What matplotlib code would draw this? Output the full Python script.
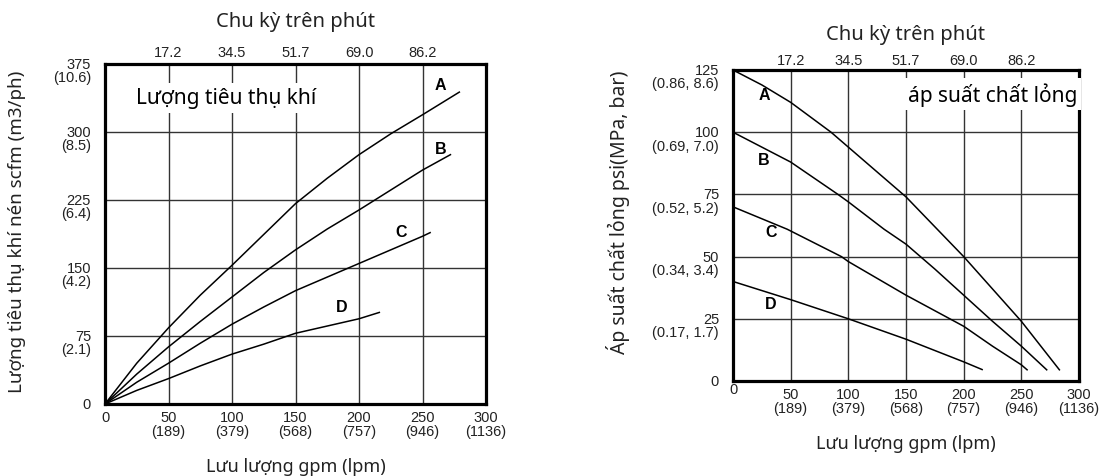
import matplotlib
matplotlib.use("Agg")
import matplotlib.pyplot as plt
from matplotlib.transforms import ScaledTranslation

# --- du lieu doc tu hinh ---
gpm_ticks = [0, 50, 100, 150, 200, 250, 300]
gpm_labels = ["0", "50\n(189)", "100\n(379)", "150\n(568)", "200\n(757)", "250\n(946)", "300\n(1136)"]
cycle_ticks = [50, 100, 150, 200, 250]
cycle_labels = ["17.2", "34.5", "51.7", "69.0", "86.2"]

air_ticks = [0, 75, 150, 225, 300, 375]
air_labels = ["0", "75\n(2.1)", "150\n(4.2)", "225\n(6.4)", "300\n(8.5)", "375\n(10.6)"]
psi_ticks = [0, 25, 50, 75, 100, 125]
psi_labels = ["0", "25\n(0.17, 1.7)", "50\n(0.34, 3.4)", "75\n(0.52, 5.2)",
              "100\n(0.69, 7.0)", "125\n(0.86, 8.6)"]

# luong tieu thu khi (scfm) theo gpm
air_a_gpm = [0, 25, 50, 75, 100, 125, 150, 175, 200, 225, 250, 279]
air_a_val = [0, 45, 84, 120, 153, 187, 221, 249, 275, 298, 319, 344]
air_b_gpm = [0, 25, 50, 75, 100, 125, 150, 175, 200, 225, 250, 272]
air_b_val = [0, 33, 63, 91, 118, 145, 170, 193, 214, 236, 258, 275]
air_c_gpm = [0, 25, 50, 75, 100, 125, 150, 175, 200, 225, 250, 256]
air_c_val = [0, 24, 45, 67, 88, 107, 125, 140, 155, 170, 185, 189]
air_d_gpm = [0, 25, 50, 75, 100, 125, 150, 175, 200, 216]
air_d_val = [0, 15, 28, 42, 55, 66, 78, 86, 94, 101]

# ap suat chat long (psi) theo gpm
psi_a_gpm = [0, 25, 50, 85, 100, 125, 150, 175, 200, 225, 250, 283]
psi_a_val = [125, 119, 112, 100, 94, 84, 74, 62, 50, 37, 24, 4.5]
psi_b_gpm = [0, 50, 91, 100, 131, 150, 175, 200, 225, 250, 272]
psi_b_val = [100, 88, 75, 72, 61, 55, 45, 34.5, 24, 14, 4.5]
psi_c_gpm = [0, 47, 94, 100, 150, 200, 225, 250, 255]
psi_c_val = [70, 61, 50, 48, 34.5, 22, 14, 6.5, 4.5]
psi_d_gpm = [0, 50, 100, 150, 200, 216]
psi_d_val = [40, 32.7, 25, 16.8, 7.7, 4.6]

air_names = ["A", "B", "C", "D"]
air_name_pos = [(264, 352), (264, 282), (233, 190), (186, 108)]
psi_name_pos = [(27, 115), (27, 89), (33, 60), (33, 31)]

TICK_FONT = "Liberation Sans"
TEXT_FONT = "Noto Sans"
GRID = "#333333"
INK = "#222222"


def shift_labels(labels, fig, dx_px=0, dy_px=0):
    for lb in labels:
        lb.set_transform(lb.get_transform() + ScaledTranslation(dx_px / 100, dy_px / 100, fig.dpi_scale_trans))


def setup_axes(fig, ax, yticks, ylabels, ylabel, ylabel_xy, top_pad, title_pad, ylabel_size):
    ax.set_xlim(0, 300)
    ax.set_ylim(yticks[0], yticks[-1])
    ax.set_xticks(gpm_ticks, gpm_labels, fontsize=10.5, family=TICK_FONT, color=INK, linespacing=1.0)
    ax.set_yticks(yticks, ylabels, fontsize=10.5, family=TICK_FONT, color=INK, linespacing=0.95)
    ax.tick_params(length=0, pad=4)
    ax.tick_params(axis="y", pad=10)
    for lb in ax.get_yticklabels():
        lb.set_va("top")
    shift_labels(ax.get_yticklabels(), fig, dy_px=7)
    ax.grid(True, color=GRID, lw=1.0)
    for s in ax.spines.values():
        s.set_linewidth(2.3)
        s.set_color("black")

    sec = ax.secondary_xaxis("top")
    sec.set_xticks(cycle_ticks, cycle_labels, fontsize=10.5, family=TICK_FONT, color=INK)
    sec.tick_params(length=0, pad=top_pad)
    sec.set_xlabel("Chu kỳ trên phút", fontsize=14.5, family=TEXT_FONT, color=INK, labelpad=title_pad)
    for s in sec.spines.values():
        s.set_visible(False)

    ax.set_xlabel("Lưu lượng gpm (lpm)", fontsize=13, family=TEXT_FONT, color=INK, labelpad=14)
    ax.set_ylabel(ylabel, fontsize=ylabel_size, family=TEXT_FONT, color=INK)
    ax.yaxis.set_label_coords(*ylabel_xy)


fig = plt.figure(figsize=(11.02, 4.77), dpi=100)
ax1 = fig.add_axes([105 / 1102, 1 - 405 / 477, 381 / 1102, 340 / 477])
ax2 = fig.add_axes([733 / 1102, 1 - 382 / 477, 346 / 1102, 311 / 477])

# --- bieu do trai: luong tieu thu khi ---
setup_axes(fig, ax1, air_ticks, air_labels, "Lượng tiêu thụ khí nén scfm (m3/ph)",
           (-0.207, 0.51), 3.5, 14, 13.5)
air_curves = [(air_a_gpm, air_a_val), (air_b_gpm, air_b_val),
              (air_c_gpm, air_c_val), (air_d_gpm, air_d_val)]
for (gx, gy), name, pos in zip(air_curves, air_names, air_name_pos):
    ax1.plot(gx, gy, color="black", lw=1.1, zorder=3)
    ax1.text(pos[0], pos[1], name, fontsize=11.5, fontweight="bold", family=TICK_FONT,
             ha="center", va="center", zorder=4)
ax1.text(0.318, 0.9, "Lượng tiêu thụ khí", transform=ax1.transAxes, fontsize=15,
         family=TEXT_FONT, ha="center", va="center", zorder=4,
         bbox=dict(facecolor="white", edgecolor="none", pad=3))

# --- bieu do phai: ap suat chat long ---
setup_axes(fig, ax2, psi_ticks, psi_labels, "Áp suất chất lỏng psi(MPa, bar)",
           (-0.298, 0.547), 2.5, 10, 14)
# nhan "0" cua truc x ben phai nam cao hon cac nhan khac
shift_labels(ax2.get_xticklabels()[:1], fig, dy_px=5)
psi_curves = [(psi_a_gpm, psi_a_val), (psi_b_gpm, psi_b_val),
              (psi_c_gpm, psi_c_val), (psi_d_gpm, psi_d_val)]
for (gx, gy), name, pos in zip(psi_curves, air_names, psi_name_pos):
    ax2.plot(gx, gy, color="black", lw=1.1, zorder=3)
    ax2.text(pos[0], pos[1], name, fontsize=11.5, fontweight="bold", family=TICK_FONT,
             ha="center", va="center", zorder=4)
ax2.text(0.994, 0.923, "áp suất chất lỏng", transform=ax2.transAxes, fontsize=15,
         family=TEXT_FONT, ha="right", va="center", zorder=4,
         bbox=dict(facecolor="white", edgecolor="none", pad=3))

fig.savefig("out.png", dpi=100)
